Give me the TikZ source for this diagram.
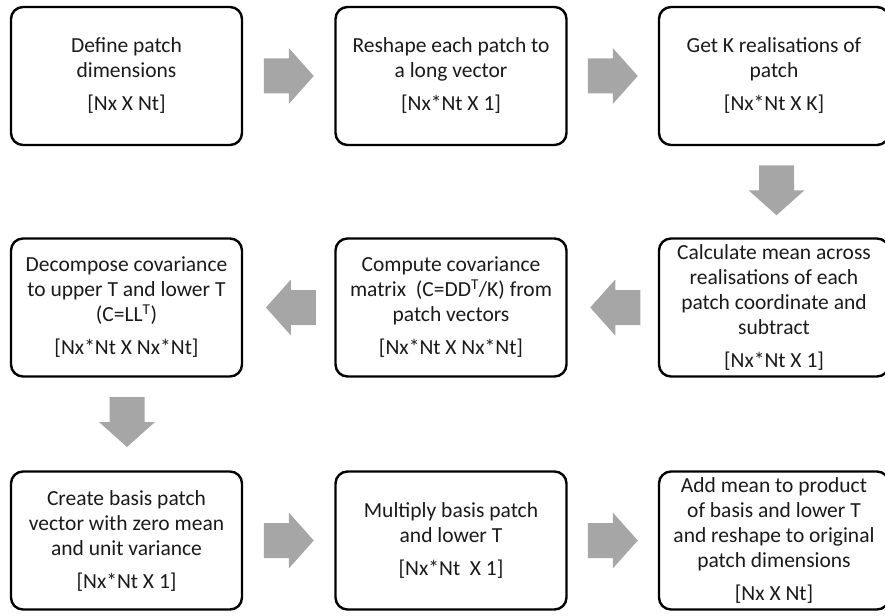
\documentclass[tikz,border=0pt]{standalone}
\usepackage{fontspec}
\setmainfont{Carlito}
\usetikzlibrary{calc}
\definecolor{arrowgray}{HTML}{A6A6A6}
\definecolor{txt}{HTML}{1A1A1A}
\tikzset{
  box/.style={draw=black, line width=2.4pt, rounded corners=12pt,
    minimum width=231pt, minimum height=138pt, inner sep=0pt,
    align=center, text=txt, font=\fontsize{21.5}{25}\selectfont},
  boxr/.style={box, minimum width=230pt},
  blockarrow/.pic={
    \fill[arrowgray] (-25,-17.5) -- (0,-17.5) -- (0,-28) -- (25,0)
      -- (0,28) -- (0,17.5) -- (-25,17.5) -- cycle;
  }
}
\begin{document}
\begin{tikzpicture}[x=1pt,y=-1pt]
\useasboundingbox (0,0) rectangle (885,615);
% row 1
\node[box] (b1) at (126.5,76) {Define patch\\dimensions\\[8pt][Nx X Nt]};
\node[box] (b2) at (451,76) {Reshape each patch to\\a long vector\\[8pt][Nx*Nt X 1]};
\node[boxr] (b3) at (774,76) {Get K realisations of\\patch\\[8pt][Nx*Nt X K]};
% row 2
\node[box] (b4) at (126.5,307.5) {Decompose covariance\\to upper T and lower T\\(C=LL\textsuperscript{T})\\[8pt][Nx*Nt X Nx*Nt]};
\node[box] (b5) at (451,307.5) {Compute covariance\\matrix\ \ (C=DD\textsuperscript{T}/K) from\\patch vectors\\[8pt][Nx*Nt X Nx*Nt]};
\node[boxr] (b6) at (774,307.5) {Calculate mean across\\realisations of each\\patch coordinate and\\subtract\\[8pt][Nx*Nt X 1]};
% row 3
\node[box] (b7) at (126.5,540.5) {Create basis patch\\vector with zero mean\\and unit variance\\[8pt][Nx*Nt X 1]};
\node[box] (b8) at (451,540.5) {Multiply basis patch\\and lower T\\[8pt][Nx*Nt\ \ X 1]};
\node[boxr] (b9) at (774,540.5) {Add mean to product\\of basis and lower T\\and reshape to original\\patch dimensions\\[8pt][Nx X Nt]};
% arrow anchor points between boxes
\coordinate (m12) at ($(b1.east)!0.5!(b2.west)$);
\coordinate (m23) at ($(b2.east)!0.5!(b3.west)$);
\coordinate (m36) at ($(b3.south)!0.5!(b6.north)+(2.5,-1.5)$);
\coordinate (m65) at ($(b6.west)!0.5!(b5.east)+(2.5,0)$);
\coordinate (m54) at ($(b5.west)!0.5!(b4.east)+(2.2,0)$);
\coordinate (m47) at ($(b4.south)!0.5!(b7.north)+(0.5,-2)$);
\coordinate (m78) at ($(b7.east)!0.5!(b8.west)$);
\coordinate (m89) at ($(b8.east)!0.5!(b9.west)$);
% block arrows
\pic at (m12) {blockarrow};
\pic at (m23) {blockarrow};
\pic[rotate=-90] at (m36) {blockarrow};
\pic[rotate=180] at (m65) {blockarrow};
\pic[rotate=180] at (m54) {blockarrow};
\pic[rotate=-90] at (m47) {blockarrow};
\pic at (m78) {blockarrow};
\pic at (m89) {blockarrow};
\end{tikzpicture}
\end{document}
